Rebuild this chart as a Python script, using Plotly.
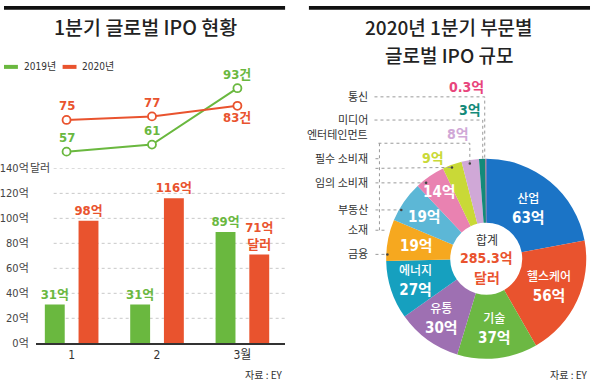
import math
import plotly.graph_objects as go

W, H = 591, 388

# ---------------- data ----------------
months = ["1", "2", "3월"]
ipo_count_2019 = [57, 61, 93]
ipo_count_2020 = [75, 77, 83]
count_suffix = ["", "", "건"]
amount_2019 = [31, 31, 89]      # 억달러
amount_2020 = [98, 116, 71]     # 억달러
amount_ticks = [0, 20, 40, 60, 80, 100, 120, 140]

sectors = ["산업", "헬스케어", "기술", "유통", "에너지", "금융", "부동산",
           "임의 소비재", "필수 소비재", "엔터테인먼트", "미디어", "통신"]
sector_values = [63, 56, 37, 30, 27, 19, 19, 14, 9, 8, 3, 0.3]
side_labels = ["통신", "미디어", "엔터테인먼트", "필수 소비재", "임의 소비재", "부동산", "소재", "금융"]

# ---------------- style ----------------
GREEN = "#6ab83f"
RED = "#e9532e"
DARK = "#333333"
pie_colors = ["#1b74c6", "#e9532e", "#6cb843", "#9e70b2", "#16a0bf", "#f6a81f",
              "#5cb7d6", "#e982b1", "#c9d937", "#d0a8d7", "#138a79", "#e8457c"]
F_KR = "Noto Sans CJK KR"
F_NUM = "Liberation Sans Narrow, DejaVu Sans Condensed, Roboto, Noto Sans CJK KR"


def X(p):
    return p / W


def Y(p):
    return 1 - p / H


def A(text, x, y, xref="paper", yref="paper", xanchor="center", yanchor="middle", **kw):
    d = dict(text=text, x=x, y=y, xref=xref, yref=yref, xanchor=xanchor, yanchor=yanchor,
             showarrow=False)
    d.update(kw)
    return d


fig = go.Figure()

# ---- line chart (IPO count) ----
for vals, col in [(ipo_count_2019, GREEN), (ipo_count_2020, RED)]:
    fig.add_trace(go.Scatter(
        x=months, y=vals, xaxis="x", yaxis="y", mode="lines+markers",
        line=dict(color=col, width=2),
        marker=dict(symbol="circle", size=8, color="white", line=dict(color=col, width=1.8)),
        showlegend=False, cliponaxis=False, hoverinfo="skip"))

# ---- bar chart (IPO amount) ----
fig.add_trace(go.Bar(
    x=months, y=amount_2019, xaxis="x2", yaxis="y2", marker=dict(color=GREEN, line=dict(width=0)),
    text=[f"{v}억" for v in amount_2019], textposition="outside",
    textfont=dict(color=GREEN, size=13, family=F_NUM, weight="bold"),
    cliponaxis=False, constraintext="none", showlegend=False, hoverinfo="skip"))
red_text = [f"{v}억" for v in amount_2020]
red_text[-1] = red_text[-1] + "<br>달러"
fig.add_trace(go.Bar(
    x=months, y=amount_2020, xaxis="x2", yaxis="y2", marker=dict(color=RED, line=dict(width=0)),
    text=red_text, textposition="outside",
    textfont=dict(color=RED, size=13, family=F_NUM, weight="bold"),
    cliponaxis=False, constraintext="none", showlegend=False, hoverinfo="skip"))

# ---- donut ----
PCX, PCY, PR = 485.5, 261.5, 103.5
fig.add_trace(go.Pie(
    values=sector_values, labels=sectors, sort=False, direction="clockwise", rotation=0,
    hole=0.36, marker=dict(colors=pie_colors, line=dict(width=0)), textinfo="none",
    domain=dict(x=[X(PCX - PR), X(PCX + PR)], y=[Y(PCY + PR), Y(PCY - PR)]),
    showlegend=False, hoverinfo="label+value"))

ann = []
shapes = []

# titles and top bars
shapes.append(dict(type="rect", xref="paper", yref="paper", x0=X(0), x1=X(283), y0=Y(4), y1=Y(0),
                   fillcolor="#111", line=dict(width=0)))
shapes.append(dict(type="rect", xref="paper", yref="paper", x0=X(307), x1=X(590), y0=Y(4), y1=Y(0),
                   fillcolor="#111", line=dict(width=0)))
TFONT = dict(family=F_KR, size=19.5, color="#222", weight=500)
TFONT2 = dict(family=F_KR, size=19, color="#222", weight=500)
ann.append(A("1분기 글로벌 IPO 현황", X(142), Y(21), font=TFONT))
ann.append(A("2020년 1분기 부문별", X(448), Y(21.5), font=TFONT2))
ann.append(A("글로벌 IPO 규모", X(448), Y(50), font=TFONT2))

# legend
for x0, col, lab in [(0, GREEN, "2019년"), (59, RED, "2020년")]:
    shapes.append(dict(type="line", xref="paper", yref="paper", x0=X(x0), x1=X(x0 + 14), y0=Y(63), y1=Y(63),
                       line=dict(color=col, width=4)))
    ann.append(A(lab, X(x0 + 18), Y(63), xanchor="left", font=dict(family=F_NUM, size=10, color=DARK)))

# line labels
line_offsets = {0: [14, 14, 14], 1: [14, 14, -12]}
for si, (vals, col) in enumerate([(ipo_count_2019, GREEN), (ipo_count_2020, RED)]):
    for i, v in enumerate(vals):
        ann.append(A(f"{v}{count_suffix[i]}", i, v, xref="x", yref="y", yshift=line_offsets[si][i],
                     font=dict(family=F_NUM, size=13, color=col, weight="bold")))

# gridlines
for t in amount_ticks[1:]:
    shapes.append(dict(type="line", xref="paper", yref="y2", x0=X(50), x1=X(283), y0=t, y1=t,
                       line=dict(color="#c8c8c8", width=1, dash="dot"), layer="below"))
ann.append(A("달러", X(24), amount_ticks[-1], yref="y2", xanchor="left",
             font=dict(family=F_NUM, size=11, color="#444")))

# sources
ann.append(A("자료 : EY", X(283), Y(381), xanchor="right", font=dict(family=F_KR, size=10, color=DARK)))
ann.append(A("자료 : EY", X(590), Y(381), xanchor="right", font=dict(family=F_KR, size=10, color=DARK)))

# donut slice labels
total = sum(sector_values)
label_mode = ["full"] * 5 + ["val"] * 3 + ["out"] * 4
label_r = [66, 70, 74, 77, 75, 71, 76, 84, 0, 0, 0, 0]
out_pos = {8: (445, 157), 9: (470, 132), 10: (482, 108), 11: (485, 84)}
cum = 0
for i, v in enumerate(sector_values):
    mid = (cum + v / 2) / total * 2 * math.pi
    cum += v
    vtxt = f"{v:g}억"
    if label_mode[i] == "out":
        ox, oy = out_pos[i]
        ann.append(A(vtxt, X(ox), Y(oy), xanchor="right",
                     font=dict(family=F_NUM, size=14, color=pie_colors[i], weight="bold")))
        continue
    lx = PCX + label_r[i] * math.sin(mid)
    ly = PCY - label_r[i] * math.cos(mid)
    if label_mode[i] == "full":
        txt = f"<span style='font-size:12px;font-weight:500'>{sectors[i]}</span><br>{vtxt}"
    else:
        txt = vtxt
    ann.append(A(txt, X(lx), Y(ly), font=dict(family=F_NUM, size=15, color="white", weight="bold")))

# centre text
ann.append(A("합계", X(486), Y(242), font=dict(family=F_KR, size=12, color=DARK)))
ann.append(A(f"{total:.1f}억", X(486), Y(261), font=dict(family=F_NUM, size=14, color=RED, weight="bold")))
ann.append(A("달러", X(486), Y(280), font=dict(family=F_KR, size=14, color=RED, weight="bold")))

# side labels with leader lines
side_y = [93, 117, 132, 157, 182, 210, 231, 256]
for lab, yy in zip(side_labels, side_y):
    ann.append(A(lab, X(368), Y(yy), xanchor="right", font=dict(family=F_KR, size=11, color=DARK)))
leaders = [
    [(373, 94), (484, 94), (484, 160)],
    [(373, 118), (482, 118), (482, 160)],
    [(377, 142), (469, 142), (469, 163)],
    [(374, 158), (378, 158)],
    [(378, 142), (378, 232)],
    [(374, 168), (451, 167)],
    [(374, 183), (425, 183)],
    [(374, 211), (400, 211)],
    [(374, 232), (384, 232)],
    [(374, 257), (386, 257)],
]
for pts in leaders:
    path = "M " + " L ".join(f"{X(a):.5f},{Y(b):.5f}" for a, b in pts)
    shapes.append(dict(type="path", xref="paper", yref="paper", path=path,
                       line=dict(color="#9a9a9a", width=1, dash="dot")))
for (a, b) in [(469, 163), (451, 167), (425, 183), (400, 211), (386, 257)]:
    shapes.append(dict(type="circle", xref="paper", yref="paper", x0=X(a - 1.3), x1=X(a + 1.3),
                       y0=Y(b + 1.3), y1=Y(b - 1.3), fillcolor="#444", line=dict(width=0)))

fig.update_layout(
    width=W, height=H, margin=dict(l=0, r=0, t=0, b=0),
    paper_bgcolor="white", plot_bgcolor="white",
    barmode="group", bargap=0.21, bargroupgap=0.41,
    xaxis=dict(domain=[X(32), X(283)], type="category", range=[-0.36, 2.558], visible=False, anchor="y"),
    yaxis=dict(domain=[Y(160), Y(75)], range=[51.9, 98.5], visible=False, anchor="x"),
    xaxis2=dict(domain=[X(32), X(283)], type="category", range=[-0.42, 2.5], anchor="y2",
                showline=True, linecolor=DARK, linewidth=1.5, ticks="", showgrid=False,
                tickfont=dict(family=F_NUM, size=12, color=DARK)),
    yaxis2=dict(domain=[Y(349), Y(168)], range=[0, 140], anchor="x2", tickvals=amount_ticks,
                ticktext=[f"{t}억" for t in amount_ticks], showgrid=False, zeroline=False,
                showline=False, ticks="", ticklabelstandoff=6,
                tickfont=dict(family=F_NUM, size=11, color="#444")),
    shapes=shapes, annotations=ann, font=dict(family=F_KR),
)

fig.write_html("out.html", config={"displayModeBar": False},
               post_script="document.body.style.margin='0';")
